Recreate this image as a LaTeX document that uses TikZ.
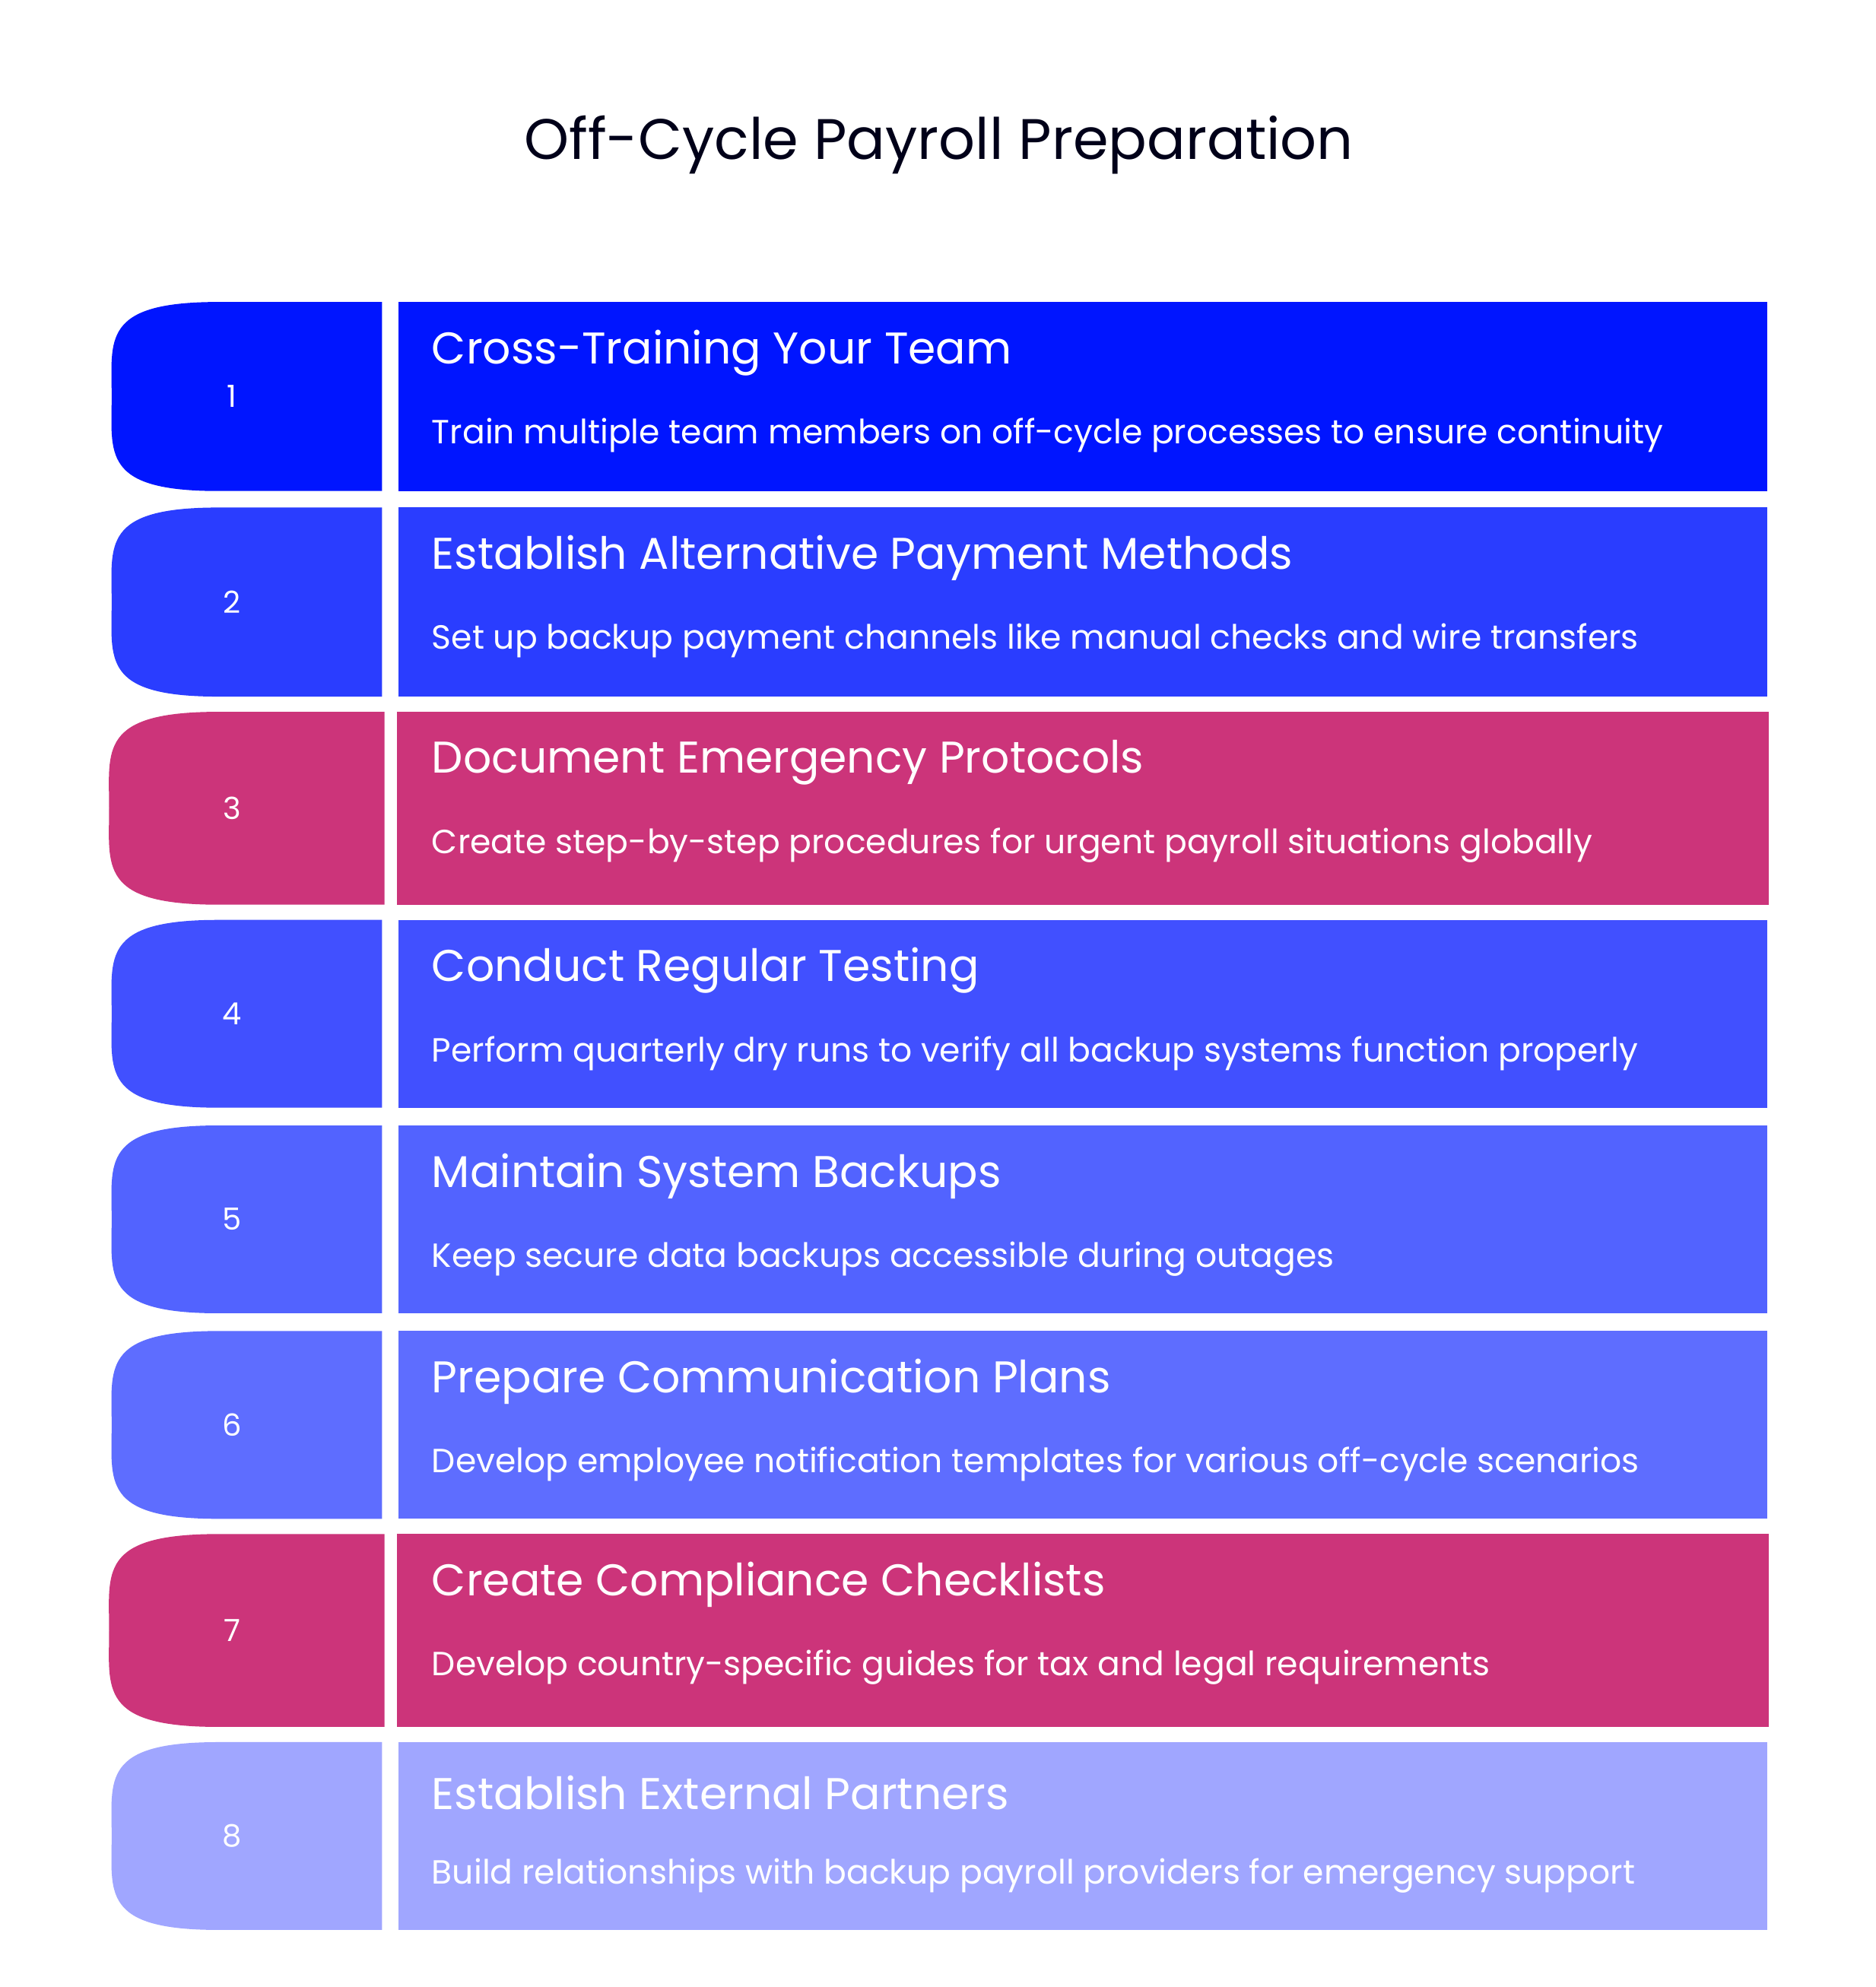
\documentclass[tikz,border=0pt]{standalone}
\usepackage{fontspec}
\setmainfont{Poppins}
\definecolor{cA}{RGB}{0,21,255}
\definecolor{cB}{RGB}{42,61,255}
\definecolor{cM}{RGB}{204,52,122}
\definecolor{cD}{RGB}{65,80,255}
\definecolor{cE}{RGB}{82,99,255}
\definecolor{cF}{RGB}{94,109,255}
\definecolor{cH}{RGB}{160,166,255}
\begin{document}
\begin{tikzpicture}[x=0.5pt,y=-0.5pt,
  num/.style={text=white,font=\fontsize{12}{14}\selectfont,anchor=center},
  head/.style={text=white,font=\fontsize{17.5}{20}\selectfont,anchor=west,inner sep=0},
  desc/.style={text=white,font=\fontsize{13.2}{16}\selectfont,anchor=west,inner sep=0}]
\useasboundingbox (0,0) rectangle (1478,1566);
\fill[white] (0,0) rectangle (1478,1566);
\node[text=black!90!blue,font=\fontsize{22.5}{26}\selectfont] (title) at (740,114) {Off-Cycle Payroll Preparation};
\newcommand{\rowitem}[9]{%
  \fill[#3] (#8,#1) -- (172,#1) .. controls ({172-(172-#7)*1.1},#1) and (#7,{#1+(#2-#1)*0.2}) .. (#7,{(#1+#2)/2})
     .. controls (#7,{#2-(#2-#1)*0.2}) and ({172-(172-#7)*1.1},#2) .. (172,#2) -- (#8,#2) -- cycle;
  \fill[#3] (#9,#1) rectangle ({#9+1079+(314-#9)*2},#2);
  \node[num] (n#4) at (183,{(#1+#2)/2}) {#4};
  \node[head] (h#4) at (340,{#1+40}) {#5};
  \node[desc] (d#4) at (340,{#1+105}) {#6};
}
\rowitem{238}{387}{cA}{1}{Cross-Training Your Team}{Train multiple team members on off-cycle processes to ensure continuity}{88}{301}{314}
\rowitem{400}{549}{cB}{2}{Establish Alternative Payment Methods}{Set up backup payment channels like manual checks and wire transfers}{88}{301}{314}
\rowitem{561}{713}{cM}{3}{Document Emergency Protocols}{Create step-by-step procedures for urgent payroll situations globally}{86}{303}{313}
\rowitem{725}{873}{cD}{4}{Conduct Regular Testing}{Perform quarterly dry runs to verify all backup systems function properly}{88}{301}{314}
\rowitem{887}{1035}{cE}{5}{Maintain System Backups}{Keep secure data backups accessible during outages}{88}{301}{314}
\rowitem{1049}{1197}{cF}{6}{Prepare Communication Plans}{Develop employee notification templates for various off-cycle scenarios}{88}{301}{314}
\rowitem{1209}{1361}{cM}{7}{Create Compliance Checklists}{Develop country-specific guides for tax and legal requirements}{86}{303}{313}
\rowitem{1373}{1521}{cH}{8}{Establish External Partners}{Build relationships with backup payroll providers for emergency support}{88}{301}{314}
\end{tikzpicture}
\end{document}
